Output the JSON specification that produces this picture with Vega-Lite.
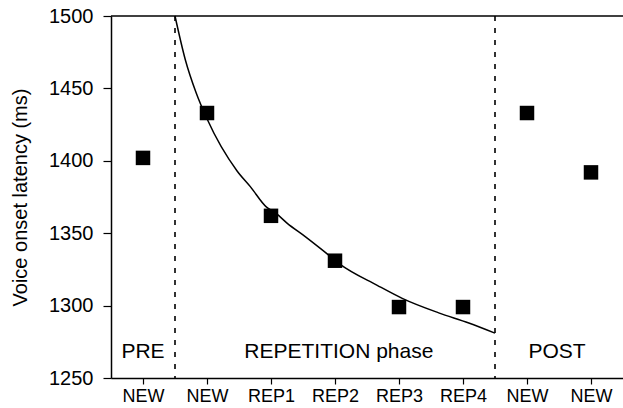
{
  "$schema": "https://vega.github.io/schema/vega-lite/v6.json",
  "width": 512,
  "height": 362,
  "autosize": {"type": "none"},
  "padding": {"left": 111, "top": 16, "right": 0, "bottom": 30},
  "background": "white",
  "config": {
    "view": {"stroke": null},
    "font": "Liberation Sans",
    "axis": {
      "domainColor": "black",
      "domainWidth": 1.5,
      "tickColor": "black",
      "tickWidth": 1.2,
      "labelColor": "black",
      "titleColor": "black",
      "grid": false,
      "labelFont": "Liberation Sans",
      "titleFont": "Liberation Sans"
    }
  },
  "datasets": {
    "points": [
      {"pos": 0, "cond": "NEW", "phase": "PRE", "latency": 1402},
      {"pos": 1, "cond": "NEW", "phase": "REPETITION", "latency": 1433},
      {"pos": 2, "cond": "REP1", "phase": "REPETITION", "latency": 1362},
      {"pos": 3, "cond": "REP2", "phase": "REPETITION", "latency": 1331},
      {"pos": 4, "cond": "REP3", "phase": "REPETITION", "latency": 1299},
      {"pos": 5, "cond": "REP4", "phase": "REPETITION", "latency": 1299},
      {"pos": 6, "cond": "NEW", "phase": "POST", "latency": 1433},
      {"pos": 7, "cond": "NEW", "phase": "POST", "latency": 1392}
    ],
    "fit": [
      {"pos": 0.5, "latency": 1500},
      {"pos": 0.66, "latency": 1470},
      {"pos": 0.83, "latency": 1447},
      {"pos": 1.0, "latency": 1429},
      {"pos": 1.47, "latency": 1393},
      {"pos": 1.68, "latency": 1382},
      {"pos": 1.93, "latency": 1368},
      {"pos": 2.07, "latency": 1364},
      {"pos": 2.25, "latency": 1357},
      {"pos": 2.54, "latency": 1347.5},
      {"pos": 2.8, "latency": 1338.5},
      {"pos": 3.08, "latency": 1328.5},
      {"pos": 3.66, "latency": 1314},
      {"pos": 4.05, "latency": 1305},
      {"pos": 4.62, "latency": 1295},
      {"pos": 5.09, "latency": 1288},
      {"pos": 5.5, "latency": 1281}
    ],
    "one": [{}]
  },
  "layer": [
    {
      "data": {"name": "one"},
      "mark": {"type": "rule", "color": "black", "strokeWidth": 1.5},
      "encoding": {"y": {"datum": 1500, "type": "quantitative"}}
    },
    {
      "data": {"name": "one"},
      "mark": {"type": "rule", "color": "black", "strokeWidth": 1.6, "strokeDash": [5, 7]},
      "encoding": {"x": {"datum": 0.5, "type": "quantitative"}}
    },
    {
      "data": {"name": "one"},
      "mark": {"type": "rule", "color": "black", "strokeWidth": 1.6, "strokeDash": [5, 7]},
      "encoding": {"x": {"datum": 5.5, "type": "quantitative"}}
    },
    {
      "data": {"name": "fit"},
      "mark": {"type": "line", "color": "black", "strokeWidth": 1.5, "interpolate": "monotone"},
      "encoding": {
        "x": {"field": "pos", "type": "quantitative"},
        "y": {"field": "latency", "type": "quantitative"}
      }
    },
    {
      "data": {"name": "points"},
      "mark": {"type": "point", "shape": "square", "filled": true, "color": "black", "opacity": 1, "size": 210},
      "encoding": {
        "x": {
          "field": "pos",
          "type": "quantitative",
          "scale": {"domain": [-0.5, 7.5], "nice": false, "zero": false},
          "axis": {
            "title": null,
            "values": [0, 1, 2, 3, 4, 5, 6, 7],
            "labelExpr": "['NEW','NEW','REP1','REP2','REP3','REP4','NEW','NEW'][datum.value]",
            "labelFontSize": 18,
            "tickSize": 6,
            "labelPadding": 3,
            "labelFlush": false,
            "labelOverlap": false
          }
        },
        "y": {
          "field": "latency",
          "type": "quantitative",
          "scale": {"domain": [1250, 1500], "nice": false, "zero": false},
          "axis": {
            "title": "Voice onset latency (ms)",
            "values": [1250, 1300, 1350, 1400, 1450, 1500],
            "format": "d",
            "labelFontSize": 20,
            "titleFontSize": 20,
            "titleFontWeight": "normal",
            "tickSize": 8,
            "labelPadding": 10,
            "titlePadding": 18,
            "labelFlush": false,
            "labelOverlap": false
          }
        }
      }
    },
    {
      "data": {"name": "one"},
      "mark": {"type": "text", "fontSize": 21, "color": "black", "baseline": "alphabetic", "align": "center"},
      "encoding": {
        "x": {"datum": 0, "type": "quantitative"},
        "y": {"datum": 1264, "type": "quantitative"},
        "text": {"value": "PRE"}
      }
    },
    {
      "data": {"name": "one"},
      "mark": {"type": "text", "fontSize": 21, "color": "black", "baseline": "alphabetic", "align": "center"},
      "encoding": {
        "x": {"datum": 3.06, "type": "quantitative"},
        "y": {"datum": 1264, "type": "quantitative"},
        "text": {"value": "REPETITION phase"}
      }
    },
    {
      "data": {"name": "one"},
      "mark": {"type": "text", "fontSize": 21, "color": "black", "baseline": "alphabetic", "align": "center"},
      "encoding": {
        "x": {"datum": 6.47, "type": "quantitative"},
        "y": {"datum": 1264, "type": "quantitative"},
        "text": {"value": "POST"}
      }
    }
  ]
}
